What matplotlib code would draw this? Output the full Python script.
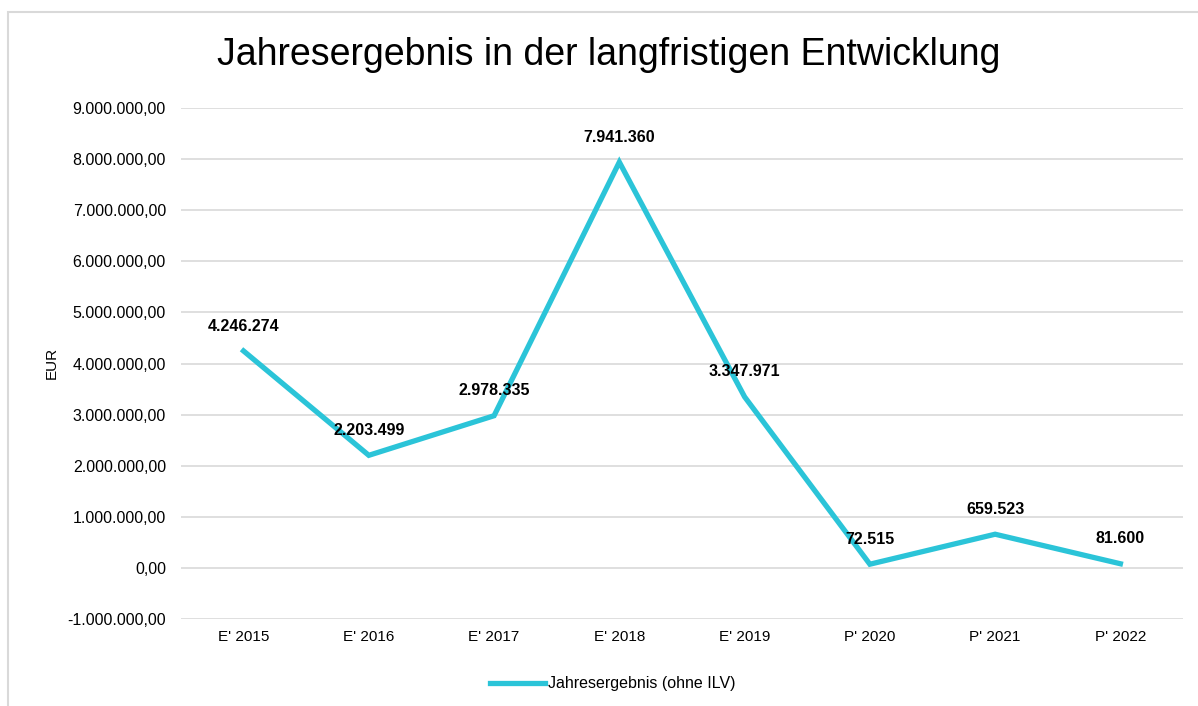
import matplotlib.pyplot as plt
from matplotlib.patches import Rectangle
from matplotlib.ticker import FuncFormatter

plt.rcParams['font.family'] = ['Liberation Sans', 'DejaVu Sans']

# Daten
jahre = ["E' 2015", "E' 2016", "E' 2017", "E' 2018", "E' 2019", "P' 2020", "P' 2021", "P' 2022"]
jahresergebnis = [4246274, 2203499, 2978335, 7941360, 3347971, 72515, 659523, 81600]
y_ticks = list(range(-1000000, 9000001, 1000000))

farbe = '#2BC4D8'


def de_format(v, nachkomma=False):
    s = f"{v:,.2f}" if nachkomma else f"{v:,.0f}"
    return s.replace(',', 'X').replace('.', ',').replace('X', '.')


fig = plt.figure(figsize=(11.98, 7.06), dpi=100)
ax = fig.add_axes([0.151, 0.1232, 0.8365, 0.7238])

x = list(range(len(jahre)))
ax.plot(x, jahresergebnis, color=farbe, linewidth=3.8, solid_joinstyle='miter',
        label='Jahresergebnis (ohne ILV)')

for xi, v in zip(x, jahresergebnis):
    ax.annotate(de_format(v), (xi, v), xytext=(0, 12.5), textcoords='offset points',
                ha='center', va='bottom', fontsize=11.5, fontweight='bold')

ax.set_xlim(-0.5, len(jahre) - 0.5)
ax.set_ylim(-1000000, 9000000)
ax.set_yticks(y_ticks)
ax.yaxis.set_major_formatter(FuncFormatter(lambda v, p: de_format(v, True)))
ax.set_xticks(x)
ax.set_xticklabels(jahre)
ax.tick_params(axis='x', length=0, labelsize=11, pad=8)
ax.tick_params(axis='y', length=0, labelsize=11.5, pad=10.8)
ax.grid(axis='y', color='#d9d9d9', linewidth=1.2)
ax.set_axisbelow(True)
for s in ax.spines.values():
    s.set_visible(False)

fig.text(0.0434, 0.486, 'EUR', rotation=90, ha='center', va='center', fontsize=11)
fig.text(0.508, 0.922, 'Jahresergebnis in der langfristigen Entwicklung',
         ha='center', va='center', fontsize=27)

ax.legend(loc='center', bbox_to_anchor=(0.431, -0.127), frameon=False, fontsize=11.5,
          handlelength=3.4, handletextpad=0.2)

# Rahmen
fig.patches.append(Rectangle((8 / 1198, -0.05), 1.2, 1 - 12 / 706 + 0.05,
                             transform=fig.transFigure, fill=False,
                             edgecolor='#d9d9d9', linewidth=1.5))

fig.savefig('out.png', dpi=100)
